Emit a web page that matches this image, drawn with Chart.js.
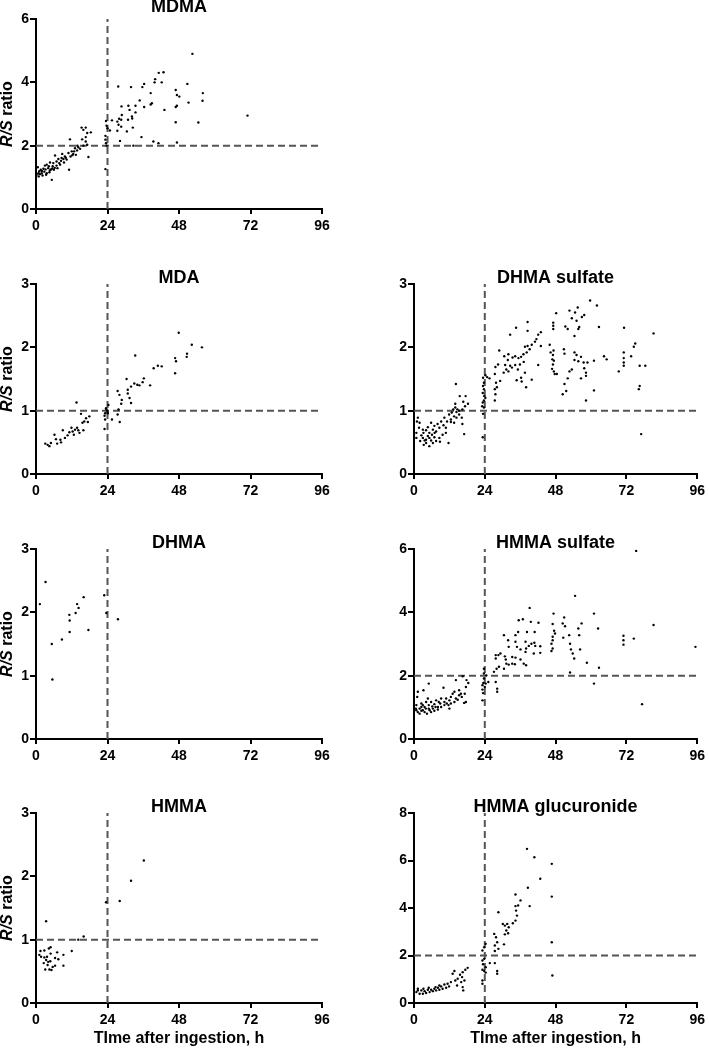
<!DOCTYPE html>
<html>
<head>
<meta charset="utf-8">
<script src="https://cdn.jsdelivr.net/npm/chart.js@4.4.1/dist/chart.umd.min.js"></script>
<style>
  body { margin: 0; background: #fff; width: 709px; height: 1048px; overflow: hidden; }
  canvas { position: absolute; }
</style>
</head>
<body>
<script>
// ======================
// DATA
// ======================
const timeTicks = [0, 24, 48, 72, 96];
const ratioTicks3 = [0, 1, 2, 3];
const ratioTicks6 = [0, 2, 4, 6];
const ratioTicks8 = [0, 2, 4, 6, 8];
const cutoffTime = 24;
const xTitle = "TIme after ingestion, h";

// [time h, R/S ratio]
const mdmaPoints = [
  [52.5,4.9],[41.2,4.3],[42.8,4.32],[40.0,4.1],[39.8,4.0],[42.2,4.0],[36.3,3.95],[35.7,3.85],[31.9,3.85],[27.6,3.87],
  [50.8,3.95],[56.0,3.66],[55.9,3.42],[46.9,3.76],[47.3,3.6],[48.1,3.55],[38.5,3.66],[38.9,3.34],[38.5,3.3],[34.8,3.43],
  [33.4,3.26],[31.0,3.26],[28.7,3.24],[36.3,3.22],[33.4,3.05],[47.3,3.26],[46.9,3.22],[51.2,3.36],[43.1,3.13],[31.4,3.13],
  [32.2,2.92],[32.3,2.86],[28.8,2.97],[27.9,2.85],[28.6,2.82],[30.9,2.82],[27.3,2.76],[25.5,2.8],[23.5,2.78],[23.7,2.63],
  [24.0,2.55],[27.7,2.66],[28.6,2.6],[46.9,2.74],[54.5,2.73],[71.0,2.95],[32.5,2.57],[30.5,2.45],[27.3,2.47],[28.2,2.15],
  [35.4,2.27],[39.4,2.13],[41.1,2.08],[47.3,2.1],[32.7,2.0],[23.3,2.31],[23.3,2.19],[23.5,2.08],[23.7,2.0],[23.3,1.26],[24.8,2.48],
  [15.3,2.57],[16.7,2.57],[15.9,2.5],[17.2,2.4],[18.4,2.42],[16.7,2.27],[15.5,2.2],[11.4,2.2],[16.7,2.13],[17.2,2.03],
  [15.9,2.0],[13.9,2.0],[14.2,1.95],[17.6,1.64],[13.1,1.92],[12.0,1.82],[12.5,1.74],[10.9,1.77],[13.4,1.71],[9.7,1.66],
  [8.8,1.74],[8.6,1.61],[7.5,1.58],[6.4,1.69],[6.9,1.5],[5.8,1.45],[4.7,1.47],[3.6,1.4],[3.0,1.37],[5.6,1.35],
  [4.1,1.29],[2.5,1.27],[1.6,1.24],[1.1,1.19],[0.8,1.13],[1.9,1.13],[0.6,1.32],[0.2,1.08],[2.2,1.06],[3.6,1.13],
  [4.7,1.22],[6.0,1.24],[7.2,1.29],[8.1,1.4],[9.4,1.47],[10.3,1.56],[11.1,1.24],[5.3,0.92],[0.9,1.03],[3.4,1.08],
  [4.5,1.16],[6.9,1.37],[9.2,1.58],[11.6,1.66],[12.8,1.82],[2.8,1.18],[5.0,1.25],[6.3,1.3],[7.8,1.45],[8.4,1.52],
  [10.0,1.62],[12.2,1.7],[13.8,1.85],[14.8,1.9],[2.0,1.2],[3.2,1.25],[4.3,1.35],[5.5,1.28],[1.3,1.1]
];

const mdaPoints = [
  [47.9,2.23],[52.3,2.04],[55.7,2.0],[50.7,1.9],[50.6,1.85],[33.3,1.87],[46.7,1.83],[47.0,1.78],[46.7,1.59],[39.5,1.67],
  [40.9,1.71],[42.2,1.7],[30.4,1.5],[36.2,1.51],[35.8,1.45],[33.0,1.43],[34.0,1.41],[34.7,1.4],[38.3,1.4],[31.9,1.38],
  [30.8,1.33],[30.8,1.27],[31.4,1.2],[31.9,1.12],[27.4,1.31],[28.0,1.25],[28.8,1.17],[28.6,1.11],[24.3,1.09],[27.7,1.02],
  [27.4,0.94],[28.1,0.82],[25.5,0.86],[23.5,1.04],[23.9,1.0],[23.2,0.96],[23.0,0.92],[23.2,0.86],[23.0,0.71],[24.1,0.96],
  [13.6,1.13],[15.1,0.95],[16.8,0.88],[17.9,0.91],[16.2,0.83],[17.4,0.82],[15.6,0.81],[15.9,0.69],[13.8,0.73],[13.1,0.7],
  [12.3,0.67],[12.7,0.62],[11.2,0.66],[10.6,0.61],[9.0,0.69],[9.7,0.57],[8.2,0.54],[6.7,0.55],[6.2,0.62],[7.1,0.48],
  [5.0,0.49],[3.9,0.46],[3.1,0.48],[4.5,0.44],[14.2,0.69],[11.9,0.73],[8.4,0.5],[14.6,0.65],[23.6,1.02],[24.0,0.98]
];

const dhmaSulfatePoints = [
  [59.7,2.74],[62.0,2.66],[48.2,2.54],[52.7,2.58],[55.5,2.63],[54.6,2.55],[53.5,2.46],[57.7,2.51],[56.9,2.48],[55.1,2.42],
  [47.2,2.39],[47.2,2.34],[47.2,2.29],[51.3,2.33],[52.1,2.29],[56.0,2.32],[55.7,2.29],[54.4,2.18],[62.7,2.32],[71.2,2.31],
  [81.2,2.22],[38.5,2.4],[38.5,2.26],[34.6,2.31],[32.6,2.2],[43.0,2.24],[42.1,2.2],[41.5,2.13],[41.0,2.09],[39.9,2.04],
  [38.5,2.02],[37.6,2.01],[39.2,1.97],[38.2,1.92],[37.1,1.89],[36.3,1.85],[35.4,1.83],[34.3,1.86],[33.4,1.84],[32.0,1.89],
  [30.6,1.86],[31.8,1.8],[30.9,1.72],[32.6,1.71],[34.3,1.72],[35.9,1.73],[37.2,1.77],[35.2,1.65],[33.2,1.68],[31.3,1.65],
  [32.0,1.62],[30.4,1.6],[28.9,1.95],[28.5,1.73],[27.6,1.69],[27.4,1.58],[29.2,1.47],[27.8,1.44],[27.4,1.34],[28.1,1.37],
  [27.6,1.26],[27.4,1.16],[34.8,1.48],[36.3,1.52],[36.5,1.46],[38.0,1.37],[37.6,1.6],[39.9,1.49],[42.1,1.72],[43.0,2.02],
  [46.0,2.04],[46.3,1.92],[47.3,1.95],[47.1,1.88],[46.9,1.81],[47.4,1.79],[47.1,1.73],[46.8,1.66],[47.4,1.62],[47.7,1.58],
  [48.4,1.58],[50.8,1.97],[51.0,1.9],[54.4,1.92],[55.1,1.88],[56.6,1.85],[54.4,1.8],[53.5,1.65],[52.7,1.62],[55.7,1.78],
  [57.5,1.76],[58.8,1.76],[57.7,1.67],[58.3,1.6],[58.3,1.55],[56.6,1.51],[52.1,1.51],[51.0,1.42],[50.4,1.26],[51.6,1.31],
  [61.0,1.32],[58.3,1.16],[61.0,1.79],[64.4,1.86],[65.3,1.81],[71.1,1.92],[71.1,1.83],[71.1,1.76],[71.1,1.71],[75.0,2.06],
  [74.5,2.01],[73.6,1.86],[69.4,1.62],[76.5,1.71],[78.4,1.71],[76.5,1.39],[76.2,1.34],[77.0,0.63],
  [23.4,1.52],[24.2,1.56],[23.7,1.44],[23.4,1.39],[23.7,1.34],[23.3,1.28],[23.8,1.23],[24.2,1.2],[23.7,1.16],[23.3,1.13],
  [23.1,1.07],[23.7,1.05],[23.4,0.95],[23.3,0.58],[24.8,1.53],[25.6,1.51],
  [14.2,1.42],[15.5,1.23],[17.5,1.23],[16.7,1.14],[17.3,1.07],[18.3,1.11],[16.4,1.02],[14.7,1.02],[14.0,1.05],[13.3,1.02],
  [12.8,0.97],[11.9,0.94],[13.6,0.91],[14.4,0.89],[12.5,0.86],[11.2,0.83],[10.3,0.89],[16.2,0.89],[16.4,0.79],[17.0,0.63],
  [15.3,0.94],[9.2,0.83],[8.0,0.79],[8.6,0.73],[6.9,0.76],[5.8,0.81],[6.4,0.7],[7.5,0.67],[5.2,0.65],[4.1,0.69],
  [3.2,0.65],[2.5,0.61],[1.7,0.73],[1.3,0.89],[1.0,0.83],[1.9,0.81],[0.8,0.65],[0.8,0.57],[3.0,0.57],[4.1,0.54],
  [5.2,0.57],[6.9,0.58],[8.6,0.57],[9.7,0.62],[10.8,0.65],[11.7,0.49],[8.8,0.51],[6.4,0.49],[5.2,0.44],[3.3,0.46],
  [4.1,0.49],[2.1,0.52],[4.7,0.6],[5.8,0.53],[7.5,0.52],[3.6,0.53],[6.1,0.62],[3.0,0.7],[4.7,0.74],[7.0,0.65],
  [10.0,0.77],[10.8,0.73],[12.5,0.82],[13.6,0.81],[14.4,0.98],[15.3,1.0],[14.0,1.11]
];

const dhmaPoints = [
  [3.2,2.48],[1.3,2.13],[5.3,1.5],[5.5,0.94],[8.7,1.57],[11.2,1.96],[11.3,1.87],[11.3,1.69],[13.3,1.99],[13.8,2.13],
  [14.3,2.07],[16.0,2.24],[17.6,1.72],[22.9,2.27],[23.6,1.99],[27.5,1.89]
];

const hmmaSulfatePoints = [
  [75.3,5.94],[54.6,4.52],[39.2,4.14],[47.3,3.96],[61.0,3.96],[50.9,3.84],[36.9,3.78],[35.5,3.75],[42.2,3.67],[39.6,3.7],
  [47.0,3.63],[50.4,3.65],[51.2,3.56],[56.8,3.65],[55.7,3.49],[62.4,3.49],[81.2,3.6],[47.5,3.42],[35.3,3.38],[38.3,3.38],
  [40.9,3.38],[34.4,3.28],[30.5,3.28],[47.8,3.33],[47.0,3.23],[50.6,3.2],[52.6,3.28],[56.0,3.28],[71.0,3.26],[71.0,3.12],
  [74.5,3.17],[71.0,2.98],[31.9,3.12],[34.4,3.07],[37.8,3.07],[39.8,3.01],[38.9,2.94],[40.8,3.04],[41.1,2.94],[47.0,3.12],
  [46.6,3.01],[47.0,2.86],[52.9,3.01],[53.2,2.83],[56.3,2.83],[53.8,2.7],[54.3,2.54],[95.4,2.91],[32.1,2.91],[34.9,2.91],
  [36.1,2.83],[37.8,2.75],[38.0,2.86],[40.6,2.7],[42.8,2.72],[42.8,2.93],[46.6,2.78],[29.3,2.7],[27.7,2.65],[28.6,2.65],
  [30.8,2.61],[33.3,2.59],[34.4,2.57],[36.1,2.51],[31.1,2.51],[27.7,2.54],[58.6,2.41],[37.2,2.38],[38.0,2.33],[31.3,2.38],
  [32.1,2.35],[33.3,2.38],[34.2,2.36],[28.0,2.22],[30.5,2.22],[28.8,2.28],[62.7,2.25],[52.9,2.1],[61.0,1.75],[77.3,1.1],
  [27.1,2.12],[28.2,1.59],[28.2,1.49],[27.7,1.8],[25.2,1.8],[23.7,2.22],[23.7,2.07],[23.7,1.91],[23.5,1.77],[23.2,1.7],
  [24.0,1.64],[23.2,1.56],[23.4,1.45],[23.2,1.22],[24.3,1.75],[24.5,2.01],
  [16.5,1.98],[17.8,1.86],[18.4,1.77],[14.2,1.86],[17.6,1.64],[17.2,1.43],[17.0,1.14],[17.6,1.17],[16.2,1.33],[15.9,1.43],
  [15.3,1.54],[13.7,1.49],[13.1,1.43],[12.5,1.33],[14.2,1.28],[12.0,1.22],[10.9,1.28],[11.7,1.07],[12.0,0.96],[10.0,1.62],
  [10.3,1.17],[9.2,1.28],[8.9,1.12],[8.1,1.01],[7.5,1.22],[6.9,1.1],[6.4,0.96],[5.8,1.17],[5.3,0.91],[5.0,1.07],
  [4.7,1.28],[5.0,1.75],[4.1,1.17],[3.6,1.01],[3.0,0.91],[3.2,1.54],[2.5,1.12],[1.9,0.96],[1.3,1.49],[1.1,1.33],
  [0.8,1.07],[0.6,0.96],[1.3,0.85],[2.5,0.89],[3.6,0.85],[4.4,0.8],[5.8,0.85],[6.9,0.89],[8.1,0.93],[9.2,1.01],
  [10.3,1.07],[11.1,1.12],[2.5,1.01],[4.0,0.96],[5.0,0.96],[6.2,1.03],[7.3,1.01],[8.4,1.17],[12.5,1.12],[13.7,1.17],
  [14.8,1.24],[15.3,1.38],[0.8,0.91],[1.9,0.8],[3.0,1.07]
];

const hmmaPoints = [
  [36.2,2.25],[31.9,1.93],[28.1,1.61],[23.5,1.59],[3.4,1.29],[16.0,1.05],[14.2,1.0],[12.0,0.82],[9.2,0.76],[9.2,0.59],
  [1.5,0.82],[1.1,0.76],[1.7,0.73],[2.8,0.83],[2.8,0.72],[3.4,0.68],[2.6,0.63],[3.1,0.53],[4.3,0.86],[4.9,0.88],
  [4.9,0.78],[4.1,0.65],[4.8,0.66],[5.6,0.57],[4.5,0.53],[5.2,0.52],[6.4,0.71],[7.1,0.8],[7.5,0.69],[6.4,0.59],
  [3.9,0.6],[3.7,0.73]
];

const hmmaGlucuronidePoints = [
  [38.3,6.49],[40.8,6.14],[46.7,5.86],[42.8,5.23],[38.6,4.85],[46.7,4.48],[34.4,4.57],[36.1,4.32],[35.3,4.11],[34.4,4.08],
  [39.2,4.08],[34.6,3.89],[34.9,3.68],[34.4,3.47],[33.5,3.36],[28.6,3.82],[30.1,3.33],[30.8,3.26],[31.6,3.33],[32.1,3.19],
  [31.3,3.05],[31.9,2.94],[30.8,2.89],[27.2,2.91],[27.8,2.77],[28.2,2.56],[30.5,2.47],[27.4,2.42],[46.7,2.56],[24.3,2.49],
  [23.8,2.35],[23.2,2.21],[27.4,2.19],[28.6,2.28],[23.8,1.86],[23.2,1.79],[23.4,1.63],[24.3,1.51],[23.2,1.4],[23.8,1.35],
  [24.3,1.28],[23.2,0.95],[23.2,0.81],[25.7,1.68],[27.4,1.68],[28.2,1.35],[28.2,1.23],[46.9,1.16],
  [18.2,1.48],[17.4,1.4],[16.5,1.3],[13.7,1.35],[13.1,1.23],[15.6,1.19],[16.3,1.09],[17.1,0.95],[16.5,0.67],[16.7,0.53],
  [14.8,1.02],[14.0,0.95],[12.5,0.88],[11.4,0.81],[10.3,0.78],[11.9,0.7],[9.2,0.7],[8.1,0.64],[6.9,0.6],[5.8,0.56],
  [4.7,0.56],[3.6,0.5],[2.5,0.53],[1.3,0.6],[0.8,0.46],[1.9,0.39],[3.0,0.39],[4.1,0.42],[5.3,0.46],[6.4,0.5],
  [7.5,0.53],[8.6,0.56],[9.7,0.6],[10.9,0.64],[5.0,0.64],[7.3,0.67],[3.2,0.6],[1.3,0.53],[8.6,0.74],[14.6,0.74],[16.0,0.88]
];

// ======================
// PANELS
// ======================
const panels = [
  { title: "MDMA", points: mdmaPoints, yTicks: ratioTicks6, cutoff: 2, col: 0, row: 0 },
  { title: "MDA", points: mdaPoints, yTicks: ratioTicks3, cutoff: 1, col: 0, row: 1 },
  { title: "DHMA sulfate", points: dhmaSulfatePoints, yTicks: ratioTicks3, cutoff: 1, col: 1, row: 1 },
  { title: "DHMA", points: dhmaPoints, yTicks: ratioTicks3, cutoff: null, col: 0, row: 2 },
  { title: "HMMA sulfate", points: hmmaSulfatePoints, yTicks: ratioTicks6, cutoff: 2, col: 1, row: 2 },
  { title: "HMMA", points: hmmaPoints, yTicks: ratioTicks3, cutoff: 1, col: 0, row: 3 },
  { title: "HMMA glucuronide", points: hmmaGlucuronidePoints, yTicks: ratioTicks8, cutoff: 2, col: 1, row: 3 }
];

// layout (px)
const colLeft = [0, 370], colWidth = [340, 339], yAxisW = [36, 44], padRight = [18, 8];
const rowTop = [0, 265, 530, 794];
const FONT = '"Liberation Sans", Arial, sans-serif';

// titles + italic R/S label
const panelText = {
  id: "panelText",
  afterDraw(chart, args, opts) {
    const { ctx, chartArea: a } = chart;
    ctx.save();
    ctx.fillStyle = "#000";
    ctx.textBaseline = "middle";
    ctx.textAlign = "center";
    ctx.font = "bold 18px " + FONT;
    ctx.fillText(opts.title, (a.left + a.right) / 2, a.top + opts.titleDy);
    if (opts.yLabel) {
      ctx.translate(8, (a.top + a.bottom) / 2);
      ctx.rotate(-Math.PI / 2);
      ctx.textAlign = "left";
      const f1 = "italic bold 16px " + FONT, f2 = "bold 16px " + FONT;
      ctx.font = f1; const w1 = ctx.measureText("R/S").width;
      ctx.font = f2; const w2 = ctx.measureText(" ratio").width;
      let x = -(w1 + w2) / 2;
      ctx.font = f1; ctx.fillText("R/S", x, 0);
      ctx.font = f2; ctx.fillText(" ratio", x + w1, 0);
    }
    ctx.restore();
  }
};

function makePanel(p) {
  const last = p.row === 3;
  const cv = document.createElement("canvas");
  cv.width = colWidth[p.col];
  cv.height = last ? 254 : 245;
  cv.style.left = colLeft[p.col] + "px";
  cv.style.top = rowTop[p.row] + "px";
  document.body.appendChild(cv);

  const yMax = p.yTicks[p.yTicks.length - 1];
  const dash = { borderColor: "#555", borderWidth: 2, borderDash: [7, 4], pointRadius: 0, showLine: true, fill: false, type: "line" };
  const datasets = [{
    type: "scatter",
    data: p.points.map(([x, y]) => ({ x, y })),
    backgroundColor: "#000", borderWidth: 0, pointRadius: 1.2, pointHoverRadius: 1.2
  }];
  if (p.cutoff !== null) datasets.push({ ...dash, data: [{ x: timeTicks[0], y: p.cutoff }, { x: timeTicks[timeTicks.length - 1], y: p.cutoff }] });
  datasets.push({ ...dash, data: [{ x: cutoffTime, y: 0 }, { x: cutoffTime, y: yMax }] });

  const tickFont = { family: FONT, size: 14, weight: "bold" };
  new Chart(cv, {
    type: "scatter",
    data: { datasets },
    plugins: [panelText],
    options: {
      responsive: false,
      animation: false,
      layout: { padding: { left: 0, right: padRight[p.col], top: 19, bottom: last ? 0 : 6 } },
      plugins: {
        legend: { display: false },
        tooltip: { enabled: false },
        panelText: { title: p.title, titleDy: p.row === 0 ? -12 : -6, yLabel: p.col === 0 }
      },
      scales: {
        x: {
          type: "linear", min: 0, max: 96,
          afterBuildTicks: s => { s.ticks = timeTicks.map(v => ({ value: v })); },
          afterFit: s => { s.height = last ? 45 : 30; },
          grid: { display: true, drawOnChartArea: false, drawTicks: true, tickLength: 5, color: "#000", lineWidth: 2 },
          border: { display: true, color: "#000", width: 2 },
          ticks: { color: "#000", font: tickFont, padding: 4, maxRotation: 0, autoSkip: false },
          title: { display: last, text: xTitle, color: "#000", font: { family: FONT, size: 16, weight: "bold" }, padding: 0 }
        },
        y: {
          type: "linear", min: 0, max: yMax,
          afterBuildTicks: s => { s.ticks = p.yTicks.map(v => ({ value: v })); },
          afterFit: s => { s.width = yAxisW[p.col]; },
          grid: { display: true, drawOnChartArea: false, drawTicks: true, tickLength: 6, color: "#000", lineWidth: 2 },
          border: { display: true, color: "#000", width: 2 },
          ticks: { color: "#000", font: tickFont, padding: 1 }
        }
      }
    }
  });
}

panels.forEach(makePanel);
</script>
</body>
</html>
